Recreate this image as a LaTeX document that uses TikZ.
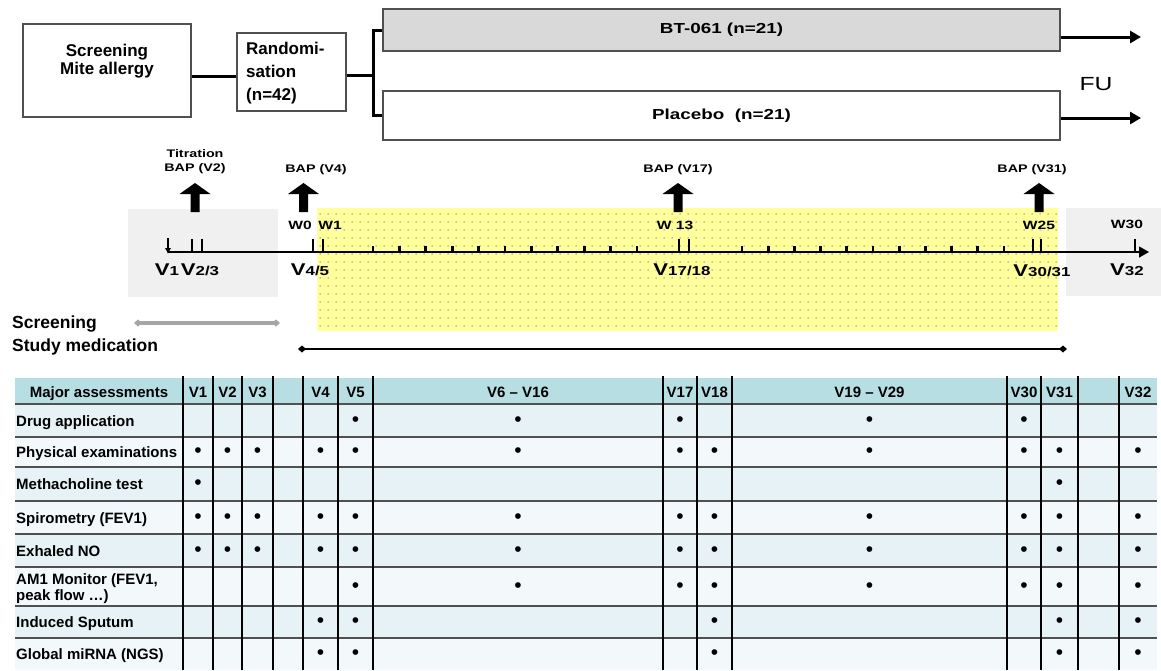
\documentclass[tikz,border=0pt]{standalone}
\usepackage{fontspec}
\setmainfont{Liberation Sans}
\newfontfamily\widefont[FakeStretch=1.3]{Liberation Sans}
\usetikzlibrary{arrows.meta,patterns.meta}
\definecolor{boxgray}{HTML}{D9D9D9}
\definecolor{edgegray}{HTML}{505050}
\definecolor{lightbg}{HTML}{F0F0F0}
\definecolor{yellowbg}{HTML}{FFFF9C}
\definecolor{dotgray}{HTML}{8E8E86}
\definecolor{hdr}{HTML}{B7DEE3}
\definecolor{rowA}{HTML}{E6F2F5}
\definecolor{rowB}{HTML}{F3F8FB}
\definecolor{scrgray}{HTML}{A6A6A6}
\newcommand\vlab[1]{{\fontsize{17}{17}\selectfont V}{\fontsize{13}{13}\selectfont #1}}
\begin{document}
\begin{tikzpicture}[x=1pt,y=-1pt,
  topbox/.style={draw=edgegray, line width=1.2pt, inner sep=0pt},
  boxtxt/.style={font=\bfseries\fontsize{17}{17.5}\selectfont, inner sep=0pt},
  armtxt/.style={font=\widefont\bfseries\fontsize{14.5}{16}\selectfont},
  conn/.style={line width=3pt, line join=miter},
  fuarrow/.style={line width=3pt, -{Triangle[length=11pt,width=12pt]}},
  tlab/.style={font=\widefont\bfseries\fontsize{11}{12}\selectfont, inner sep=0pt, anchor=base},
  wlab/.style={font=\widefont\bfseries\fontsize{12}{14}\selectfont, inner sep=0pt, anchor=base},
  vl/.style={font=\widefont\bfseries, inner sep=0pt, anchor=base},
  majortick/.style={line width=2.2pt},
  minortick/.style={line width=2.8pt},
  bap/.pic={\fill (-4.5,29) -- (-4.5,11) -- (-15.5,11) -- (0,0) -- (15.5,11) -- (4.5,11) -- (4.5,29) -- cycle;},
  phase/.style={font=\bfseries\fontsize{17.5}{18}\selectfont, inner sep=0pt, anchor=base west},
  hline/.style={draw=edgegray, line width=1.6pt},
  vline/.style={draw=black, line width=1.3pt},
  th/.style={font=\bfseries\fontsize{15}{17}\selectfont, inner sep=0pt, anchor=base},
  rl/.style={font=\bfseries\fontsize{15}{16}\selectfont, inner sep=0pt, anchor=base west, align=left},
  dot/.style={font=\fontsize{21}{21}\selectfont, inner sep=0pt}
]
\useasboundingbox (0,0) rectangle (1161,670);

% ---------- top flow ----------
\node[topbox, fill=white, minimum width=168pt, minimum height=93pt] (scr) at (107,70.5) {};
\node[boxtxt, align=center] (scrtxt) at (107,61) {Screening\\Mite allergy};
\node[topbox, minimum width=109pt, minimum height=78pt] (rand) at (291.5,72) {};
\node[boxtxt, align=left, anchor=west, font=\bfseries\fontsize{17}{23}\selectfont] (randtxt) at (246,73.5) {Randomi-\\sation\\(n=42)};
\node[topbox, fill=boxgray, minimum width=677pt, minimum height=42pt, armtxt] (bt) at (721.5,30) {BT-061 (n=21)};
\node[topbox, minimum width=677pt, minimum height=49pt, armtxt] (pl) at (721.5,115.5) {Placebo~ (n=21)};

\coordinate (j1) at ([yshift=-5.5pt]scr.east);
\draw[conn] (j1) -- (j1 -| rand.west);
\coordinate (j2) at ([yshift=-3pt]rand.east);
\coordinate (brk) at (373,75);
\draw[conn] (j2) -- (brk);
\draw[conn] (bt.west) -- (bt.west -| brk) -- (pl.west -| brk) -- (pl.west);

\coordinate (a1) at ([yshift=-7pt]bt.east);
\coordinate (a1e) at (1141,37);
\draw[fuarrow] (a1) -- (a1e);
\coordinate (a2) at ([yshift=-2.5pt]pl.east);
\coordinate (a2e) at (1141,118);
\draw[fuarrow] (a2) -- (a2e);
\node[font=\widefont\fontsize{19}{20}\selectfont, inner sep=0pt] (fu) at (1096,84) {FU};

% ---------- timeline ----------
\fill[lightbg] (128,209) rectangle (278,297);
\fill[lightbg] (1066,208) rectangle (1161,296);
\fill[yellowbg] (317,208) rectangle (1058,331);
\fill[pattern={Dots[radius=0.75pt,distance=8pt]}, pattern color=dotgray] (317,208) rectangle (1058,331);

\coordinate (t0) at (168,252);
\coordinate (tend) at (1149,252);
\draw[line width=1.3pt, -{Triangle[length=10pt,width=11pt]}] (t0) -- (tend);
\coordinate (v1top) at (168,238);
\draw[line width=1.8pt, -{Latex[length=6pt,width=6.5pt]}] (v1top) -- ([yshift=-2pt]t0);

\foreach \x in {192,202,313,323,679,689,1033,1041,1135}
  \draw[majortick] (\x,239) -- (\x,252);
\foreach \k in {0,...,10} {
  \draw[minortick] ({373+26.4*\k},246) -- ({373+26.4*\k},252);
  \draw[minortick] ({742+26.2*\k},246) -- ({742+26.2*\k},252);
}

\pic at (195,183) {bap};
\pic at (303.5,183) {bap};
\pic at (678,183) {bap};
\pic at (1039,183) {bap};

\node[tlab] (tit) at (195,157) {Titration};
\node[tlab] (bap2) at (195,171.5) {BAP (V2)};
\node[tlab] (bap4) at (316,172) {BAP (V4)};
\node[tlab] (bap17) at (678,172) {BAP (V17)};
\node[tlab] (bap31) at (1032,172) {BAP (V31)};

\node[wlab] (w0) at (300,229) {W0};
\node[wlab] (w1) at (330,229) {W1};
\node[wlab] (w13) at (675,229) {W 13};
\node[wlab] (w25) at (1039,229) {W25};
\node[wlab] (w30) at (1127,228) {W30};

\node[vl] (lv1) at (167,275) {\vlab{1}};
\node[vl] (lv23) at (200,275) {\vlab{2/3}};
\node[vl] (lv45) at (310,275) {\vlab{4/5}};
\node[vl] (lv1718) at (682,275) {\vlab{17/18}};
\node[vl] (lv3031) at (1042,276) {\vlab{30/31}};
\node[vl] (lv32) at (1127,275) {\vlab{32}};

\node[phase] (scrlab) at (12,328) {Screening};
\node[phase] (medlab) at (12,351) {Study medication};
\coordinate (s1) at (134,323);
\coordinate (s2) at (280,323);
\draw[scrgray, line width=3.8pt, {Diamond[length=8pt,width=7pt]}-{Diamond[length=8pt,width=7pt]}] (s1) -- (s2);
\coordinate (m1) at (298,349);
\coordinate (m2) at (1067,349);
\draw[line width=2.8pt, {Diamond[length=8pt,width=7pt]}-{Diamond[length=8pt,width=7pt]}] (m1) -- (m2);

% ---------- table ----------
\fill[hdr] (15,378) rectangle (1157,404);
\foreach \ya/\yb/\col in {404/437/rowA,437/467/rowB,467/501/rowA,501/534/rowB,534/567/rowA,567/606/rowB,606/638/rowA,638/670/rowB}
  \fill[\col] (15,\ya) rectangle (1157,\yb);
\foreach \yy in {404,437,467,501,534,567,606,638}
  \draw[hline] (15,\yy) -- (1157,\yy);
\foreach \x in {183,213,242,273,303,338,373,663,697,732,1007,1041,1078,1119}
  \draw[vline] (\x,376) -- (\x,670);

\foreach \n/\x in {1/198,2/227.5,3/257.5,4/288,5/320.5,6/355.5,7/518,8/680,9/714.5,10/869.5,11/1024,12/1059.5,13/1098.5,14/1138}
  \coordinate (c\n) at (\x,0);

\node[th] (hmaj) at (99,397) {Major assessments};
\foreach \n/\t in {1/V1,2/V2,3/V3,5/V4,6/V5,7/V6 -- V16,8/V17,9/V18,10/V19 -- V29,11/V30,12/V31,14/V32}
  \node[th] (h\n) at (c\n |- 0,397) {\t};

\node[rl] (r1) at (16,426) {Drug application};
\node[rl] (r2) at (16,457.5) {Physical examinations};
\node[rl] (r3) at (16,489.5) {Methacholine test};
\node[rl] (r4) at (16,523) {Spirometry (FEV1)};
\node[rl] (r5) at (16,556) {Exhaled NO};
\node[rl, anchor=west] (r6) at (16,589) {AM1 Monitor (FEV1,\\peak flow …)};
\node[rl] (r7) at (16,627.5) {Induced Sputum};
\node[rl] (r8) at (16,659.5) {Global miRNA (NGS)};

\foreach \r/\yy/\cols in {1/421.5/{6,7,8,10,11},
                          2/453/{1,2,3,5,6,7,8,9,10,11,12,14},
                          3/485/{1,12},
                          4/518.5/{1,2,3,5,6,7,8,9,10,11,12,14},
                          5/551.5/{1,2,3,5,6,7,8,9,10,11,12,14},
                          6/587.5/{6,7,8,9,10,11,12,14},
                          7/623/{5,6,9,12,14},
                          8/655/{5,6,9,12,14}}
  \foreach \c in \cols
    \node[dot] (d\r-\c) at (c\c |- 0,\yy) {•};
\end{tikzpicture}
\end{document}
